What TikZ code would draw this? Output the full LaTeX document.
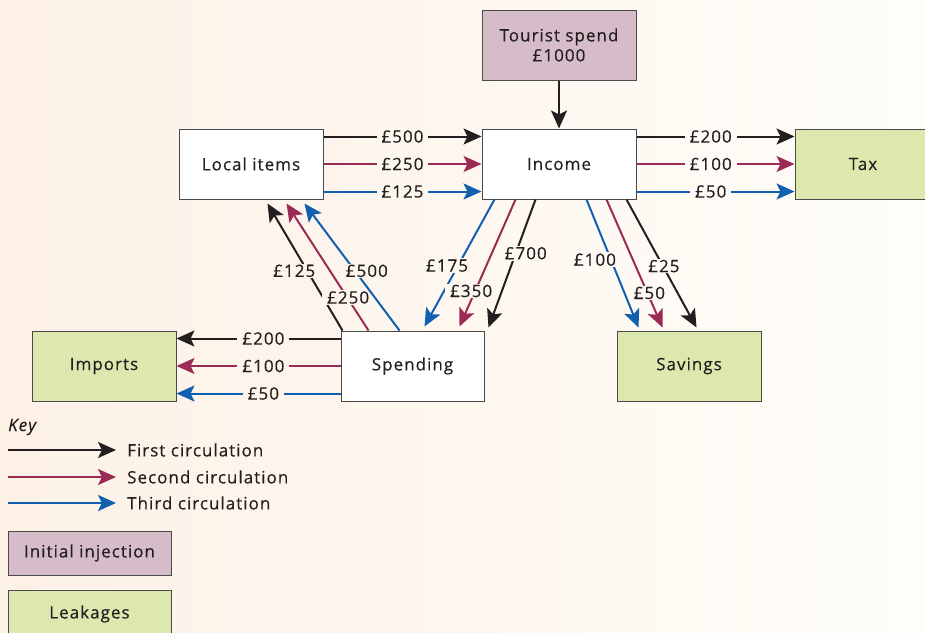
\documentclass[tikz,border=0pt]{standalone}
\usepackage{fontspec}
\setmainfont[LetterSpace=6, FakeBold=0.4]{Open Sans}
\usetikzlibrary{arrows.meta}
\definecolor{bgL}{HTML}{FDF1E6}
\definecolor{bgR}{HTML}{FEFDF9}
\definecolor{ink}{HTML}{231F20}
\definecolor{firstc}{HTML}{231F20}
\definecolor{secondc}{HTML}{9B2A55}
\definecolor{thirdc}{HTML}{115FAF}
\definecolor{injfill}{HTML}{D6BCC9}
\definecolor{leakfill}{HTML}{DDE8AE}
\definecolor{boxline}{HTML}{4A4A4A}
\begin{document}
\begin{tikzpicture}[x=1pt,y=-1pt,
  font=\fontsize{17}{20}\selectfont, text=ink,
  box/.style={draw=boxline, line width=1pt, rectangle, inner sep=0pt, align=center},
  plain/.style={box, fill=white},
  inj/.style={box, fill=injfill},
  leak/.style={box, fill=leakfill},
  flow/.style={line width=2pt, -{Stealth[length=18pt,width=16pt,inset=4pt]}},
  c1/.style={flow, draw=firstc, fill=firstc},
  c2/.style={flow, draw=secondc, fill=secondc},
  c3/.style={flow, draw=thirdc, fill=thirdc},
  lab/.style={fill=bgR!#1!bgL, inner xsep=5pt, inner ysep=1pt, text=ink},
]
\useasboundingbox (0,0) rectangle (925,632);
\shade[left color=bgL, right color=bgR] (0,0) rectangle (925,632);
\clip (0,0) rectangle (925,632);

% boxes
\node[inj, minimum width=154pt, minimum height=70pt] (ts) at (559,45) {Tourist spend\\£1000};
\node[plain, minimum width=144pt, minimum height=70pt] (li) at (251,164) {Local items};
\node[plain, minimum width=154pt, minimum height=70pt] (inc) at (559,164) {Income};
\node[leak, minimum width=136pt, minimum height=70pt] (tax) at (863,164) {Tax};
\node[leak, minimum width=144pt, minimum height=70pt] (imp) at (104,366) {Imports};
\node[plain, minimum width=143pt, minimum height=70pt] (sp) at (412.5,366) {Spending};
\node[leak, minimum width=144pt, minimum height=70pt] (sav) at (689,366) {Savings};

% injection into income
\draw[c1] (ts.south) -- (inc.north);

% local items -> income
\draw[c1] ([yshift=27.5pt]li.east) -- node[lab=43] {£500} ([yshift=27.5pt]inc.west);
\draw[c2] (li.east) -- node[lab=43] {£250} (inc.west);
\draw[c3] ([yshift=-27.5pt]li.east) -- node[lab=43] {£125} ([yshift=-27.5pt]inc.west);

% income -> tax
\draw[c1] ([yshift=27.5pt]inc.east) -- node[lab=77, pos=0.47] {£200} ([yshift=27.5pt]tax.west);
\draw[c2] (inc.east) -- node[lab=77, pos=0.47] {£100} (tax.west);
\draw[c3] ([yshift=-27.5pt]inc.east) -- node[lab=77, pos=0.47] {£50} ([yshift=-27.5pt]tax.west);

% spending -> imports
\draw[c1] ([yshift=27.5pt]sp.west) -- node[lab=28, pos=0.47] {£200} ([yshift=27.5pt]imp.east);
\draw[c2] (sp.west) -- node[lab=28, pos=0.47] {£100} (imp.east);
\draw[c3] ([yshift=-27.5pt]sp.west) -- node[lab=28, pos=0.47] {£50} ([yshift=-27.5pt]imp.east);

% spending -> local items
\draw[c1] ([xshift=2pt]sp.north west) -- node[lab=32, pos=0.47, xshift=-13pt] {£125} ([xshift=89pt,yshift=-4pt]li.south west);
\draw[c2] ([xshift=28pt]sp.north west) -- node[lab=37, pos=0.26, xshift=1pt] {£250} ([xshift=108pt,yshift=-4pt]li.south west);
\draw[c3] ([xshift=59pt]sp.north west) -- node[lab=39, pos=0.47, xshift=12pt] {£500} ([xshift=126pt,yshift=-4pt]li.south west);

% income -> spending
\draw[c3] ([xshift=13pt]inc.south west) -- node[lab=48, pos=0.52, xshift=-11pt] {£175} ([xshift=84pt,yshift=4pt]sp.north west);
\draw[c2] ([xshift=34pt]inc.south west) -- node[lab=51, pos=0.72, xshift=-4pt] {£350} ([xshift=119pt,yshift=4pt]sp.north west);
\draw[c1] ([xshift=54pt]inc.south west) -- node[lab=57, pos=0.42, xshift=10pt] {£700} ([xshift=148pt,yshift=3pt]sp.north west);

% income -> savings
\draw[c3] ([xshift=105pt]inc.south west) -- node[lab=64, pos=0.47, xshift=-16pt] {£100} ([xshift=22pt,yshift=3pt]sav.north west);
\draw[c2] ([xshift=125pt]inc.south west) -- node[lab=70, pos=0.73, xshift=2pt] {£50} ([xshift=46pt,yshift=3pt]sav.north west);
\draw[c1] ([xshift=145pt]inc.south west) -- node[lab=72, pos=0.52, xshift=1pt] {£25} ([xshift=80pt,yshift=3pt]sav.north west);

% key
\node[anchor=west, inner sep=0pt, font=\fontsize{17}{20}\selectfont\itshape] (key) at (8,427) {Key};
\coordinate (k1a) at (8,450); \coordinate (k1b) at (116,450);
\coordinate (k2a) at (8,477); \coordinate (k2b) at (116,477);
\coordinate (k3a) at (8,503); \coordinate (k3b) at (116,503);
\draw[c1] (k1a) -- (k1b);
\draw[c2] (k2a) -- (k2b);
\draw[c3] (k3a) -- (k3b);
\node[anchor=west, inner sep=0pt] (kl1) at (127,450) {First circulation};
\node[anchor=west, inner sep=0pt] (kl2) at (127,477) {Second circulation};
\node[anchor=west, inner sep=0pt] (kl3) at (127,503) {Third circulation};
\node[inj, minimum width=163pt, minimum height=44pt] (kinj) at (89.5,553) {Initial injection};
\node[leak, minimum width=163pt, minimum height=48pt] (kleak) at (89.5,614) {Leakages};
\end{tikzpicture}
\end{document}
